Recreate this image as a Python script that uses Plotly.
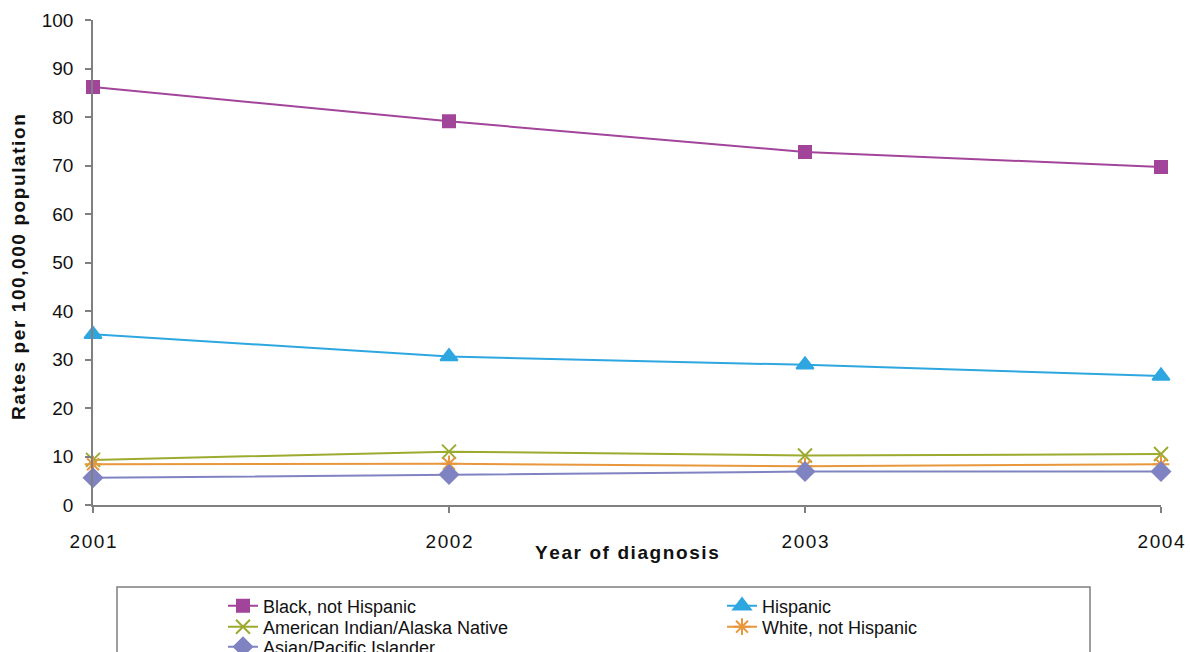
import plotly.graph_objects as go

years = [2001, 2002, 2003, 2004]
black_not_hispanic = [86.2, 79.1, 72.8, 69.7]
hispanic = [35.2, 30.6, 28.9, 26.6]
american_indian = [9.3, 11.0, 10.2, 10.5]
white_not_hispanic = [8.4, 8.5, 8.0, 8.4]
asian_pacific = [5.6, 6.3, 6.9, 6.9]
y_ticks = list(range(0, 101, 10))

series = [
    ("Black, not Hispanic", black_not_hispanic, "#A3449B", "square", 12),
    ("Hispanic", hispanic, "#2EA6E0", "triangle-up", 15),
    ("American Indian/Alaska Native", american_indian, "#9CAB2F", "x-thin-open", 14),
    ("White, not Hispanic", white_not_hispanic, "#E8973C", "asterisk-open", 14),
    ("Asian/Pacific Islander", asian_pacific, "#8083C2", "diamond", 14),
]
# legend slot (left text x px, row centre y px) per series
legend_slots = [(263, 606), (762, 606), (263, 627), (762, 627), (263, 647)]

HS = "\u200a"

def spaced(s, n=1):
    return (HS * n).join(list(s))

W, H = 1190, 652
L, R, T, B = 93, 29, 20, 147
pw = W - L - R
ph = H - T - B

def px_x(p):
    return (p - L) / pw

def px_y(p):
    return (H - B - p) / ph

fig = go.Figure()
legend_layouts = {}
for i, (name, vals, color, sym, size) in enumerate(series):
    lid = "legend" if i == 0 else f"legend{i + 1}"
    fig.add_trace(go.Scatter(
        x=years, y=vals, name=name, mode="lines+markers",
        line=dict(color=color, width=2),
        marker=dict(symbol=sym, size=size, color=color, line=dict(color=color, width=2)),
        cliponaxis=False, legend=lid,
    ))
    tx, ty = legend_slots[i]
    legend_layouts[lid] = dict(
        orientation="v", x=px_x(tx - 40), y=px_y(ty), xanchor="left", yanchor="middle",
        font=dict(size=18, color="#111111"),
        bgcolor="rgba(0,0,0,0)", borderwidth=0,
    )

fig.update_layout(
    width=W, height=H,
    margin=dict(l=L, r=R, t=T, b=B, autoexpand=False),
    paper_bgcolor="white", plot_bgcolor="white",
    font=dict(family="Liberation Sans, Arial, sans-serif", color="#111111", size=17),
    showlegend=True,
    shapes=[dict(
        type="rect", xref="paper", yref="paper",
        x0=px_x(117), x1=px_x(1090), y0=px_y(660), y1=px_y(587),
        line=dict(color="#7f7f7f", width=1.5), fillcolor="rgba(0,0,0,0)", layer="below",
    )],
    annotations=[
        dict(
            text="<b>" + spaced("Year of diagnosis") + "</b>",
            xref="paper", yref="paper", x=0.5, y=px_y(552), xanchor="center", yanchor="middle",
            showarrow=False, font=dict(size=19, color="#111111"),
        ),
        dict(
            text="<b>" + spaced("Rates per 100,000 population") + "</b>",
            xref="paper", yref="paper", x=px_x(18), y=px_y(267), xanchor="center", yanchor="middle",
            textangle=-90, showarrow=False, font=dict(size=19, color="#111111"),
        ),
    ],
    **legend_layouts,
)

fig.update_xaxes(
    range=[2001, 2004], tickmode="array", tickvals=years,
    ticktext=[spaced(str(y)) for y in years],
    showline=True, linecolor="#808080", linewidth=1.5,
    ticks="outside", ticklen=6, tickcolor="#808080", tickwidth=1.5,
    showgrid=False, zeroline=False,
    tickfont=dict(size=19, color="#111111"),
    ticklabelstandoff=12,
)
fig.update_yaxes(
    range=[0, 100], tickmode="array", tickvals=y_ticks,
    ticktext=[str(v) for v in y_ticks],
    showline=True, linecolor="#808080", linewidth=1.5,
    ticks="outside", ticklen=6, tickcolor="#808080", tickwidth=1.5,
    showgrid=False, zeroline=False,
    tickfont=dict(size=19, color="#111111"),
    ticklabelstandoff=8,
)

fig.write_html("out.html", config={"displayModeBar": False},
               post_script="document.body.style.margin='0';")
